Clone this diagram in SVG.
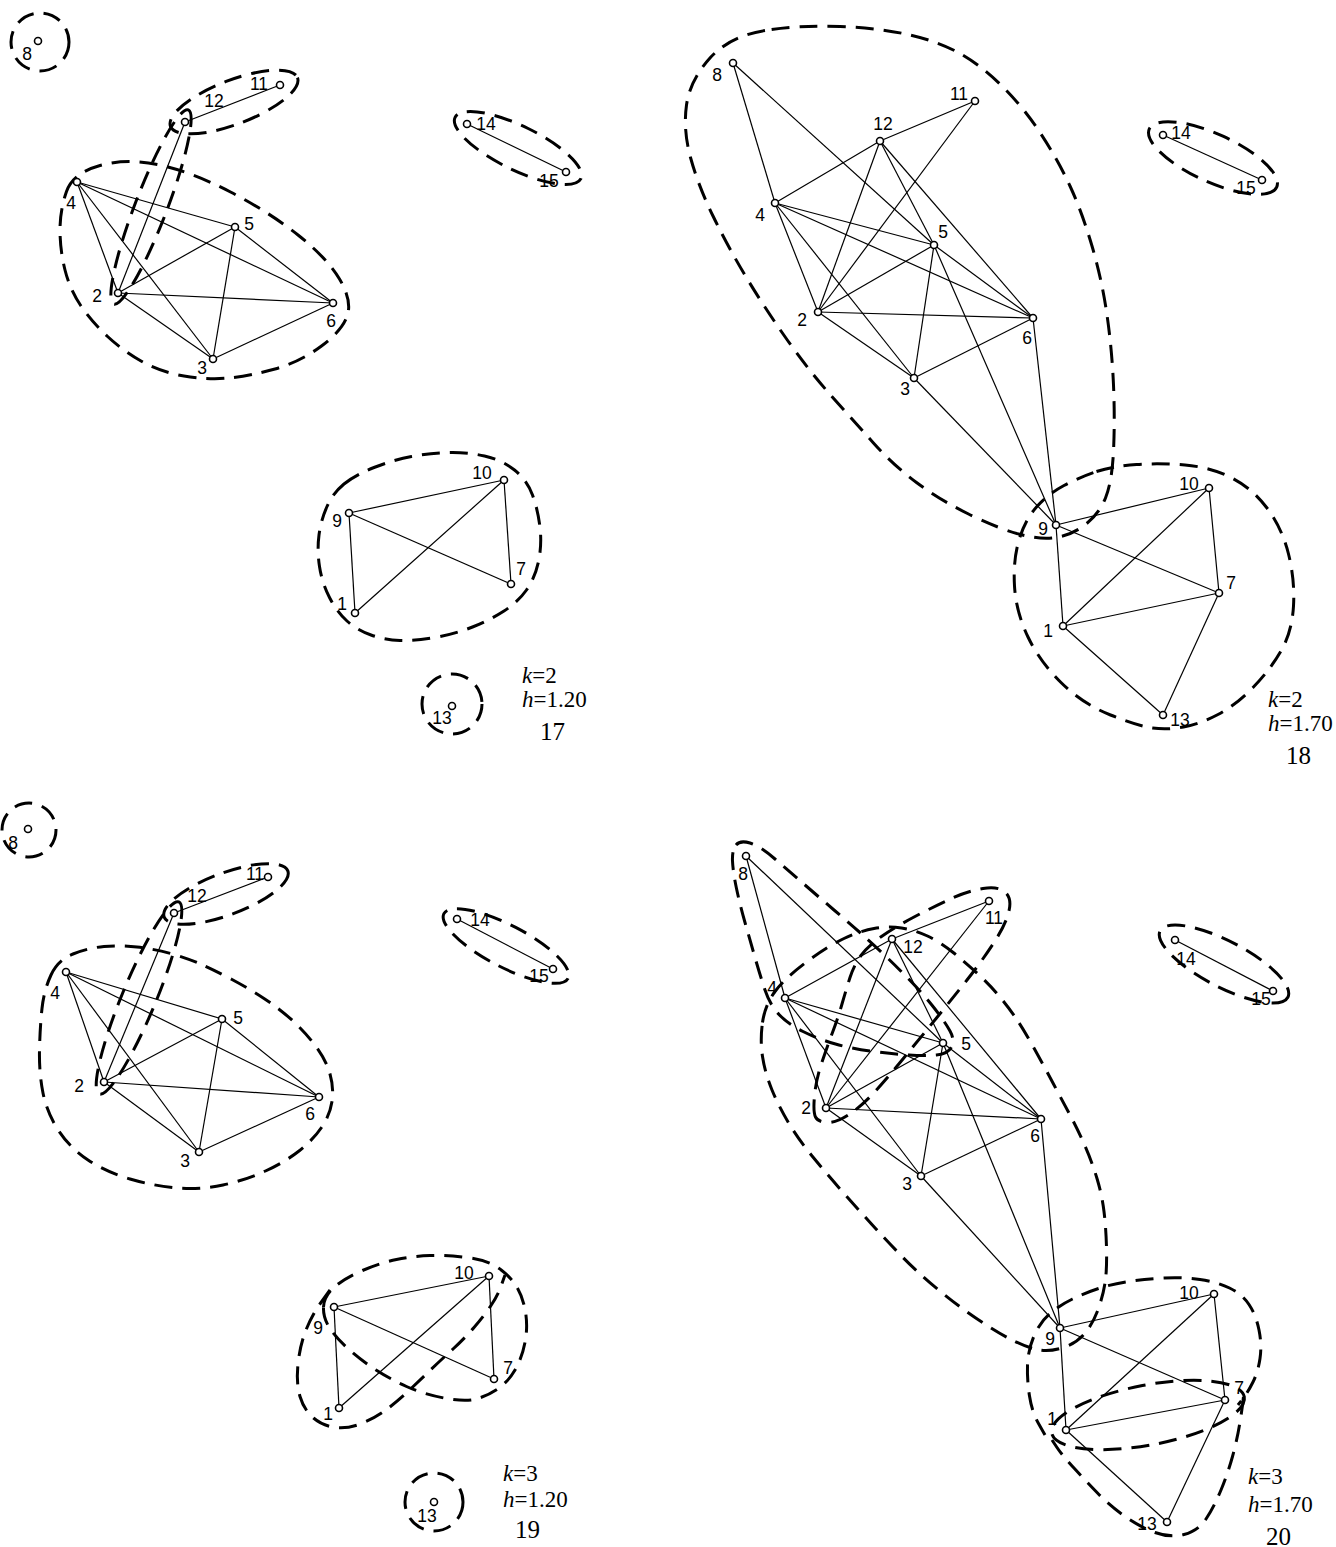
<svg xmlns="http://www.w3.org/2000/svg" width="1336" height="1547" viewBox="0 0 1336 1547">
<style>
.bg{fill:#fff}
.e line{stroke:#000;stroke-width:1.2}
.c{fill:none;stroke:#000;stroke-width:3;stroke-dasharray:18 10}
.n circle{fill:#fff;stroke:#000;stroke-width:1.6}
.n text{font-family:"Liberation Sans",Arial,sans-serif;font-size:17.5px;fill:#000;text-anchor:middle}
.t{font-family:"Liberation Serif","Times New Roman",serif;font-size:23px;fill:#000}
.t2{font-family:"Liberation Serif","Times New Roman",serif;font-size:25px;fill:#000}
</style>
<rect class="bg" x="0" y="0" width="1336" height="1547"/>

<!-- ===== Panel 17 ===== -->
<g id="p17-clusters">
<circle class="c" cx="40" cy="42" r="29"/>
<ellipse class="c" cx="234" cy="102" rx="68" ry="22" transform="rotate(-21 234 102)"/>
<ellipse class="c" cx="151" cy="207" rx="104" ry="16" transform="rotate(-69 151 207)"/>
<ellipse class="c" cx="518" cy="148" rx="70" ry="22" transform="rotate(26 518 148)"/>
<circle class="c" cx="452" cy="704" r="30"/>
<path class="c" d="M66.5,191.5 Q73,173 100,165.5 Q127,158 159.5,165 Q192,172 230.5,192 Q269,212 298,235 Q327,258 339.5,279 Q352,300 347.5,315 Q343,330 321.5,346 Q300,362 275,369 Q250,376 229,378 Q208,380 184,376 Q160,372 141,361 Q122,350 107,336 Q92,322 81,306 Q70,290 65,270 Q60,250 60,230 Q60,210 66.5,191.5 Z"/>
<path class="c" d="M344,484 Q355,475 374,467.5 Q393,460 411.5,456.5 Q430,453 448.5,452.5 Q467,452 484.5,456 Q502,460 514.5,470 Q527,480 532.5,495 Q538,510 540,527.5 Q542,545 538.5,561.5 Q535,578 526.5,590 Q518,602 504,611 Q490,620 472.5,627 Q455,634 435,637.5 Q415,641 400,640.5 Q385,640 371,635 Q357,630 347,621 Q337,612 329.5,597.5 Q322,583 319.5,566.5 Q317,550 319,535 Q321,520 327,506.5 Q333,493 344,484 Z"/>
</g>
<g id="p17-edges" class="e">
<line x1="280" y1="85" x2="185" y2="122"/>
<line x1="185" y1="122" x2="118" y2="293"/>
<line x1="467" y1="124" x2="566" y2="172"/>
<line x1="77" y1="182" x2="235" y2="227"/>
<line x1="77" y1="182" x2="333" y2="303"/>
<line x1="77" y1="182" x2="118" y2="293"/>
<line x1="77" y1="182" x2="213" y2="359"/>
<line x1="235" y1="227" x2="118" y2="293"/>
<line x1="235" y1="227" x2="333" y2="303"/>
<line x1="235" y1="227" x2="213" y2="359"/>
<line x1="118" y1="293" x2="333" y2="303"/>
<line x1="118" y1="293" x2="213" y2="359"/>
<line x1="213" y1="359" x2="333" y2="303"/>
<line x1="349" y1="513" x2="504" y2="480"/>
<line x1="349" y1="513" x2="511" y2="584"/>
<line x1="349" y1="513" x2="355" y2="613"/>
<line x1="504" y1="480" x2="355" y2="613"/>
<line x1="504" y1="480" x2="511" y2="584"/>
</g>
<g id="p17-n8" class="n"><circle cx="38" cy="41" r="3.5"/><text x="27" y="60">8</text></g>
<g id="p17-n11" class="n"><circle cx="280" cy="85" r="3.5"/><text x="259" y="90">11</text></g>
<g id="p17-n12" class="n"><circle cx="185" cy="122" r="3.5"/><text x="214" y="107">12</text></g>
<g id="p17-n14" class="n"><circle cx="467" cy="124" r="3.5"/><text x="486" y="130">14</text></g>
<g id="p17-n15" class="n"><circle cx="566" cy="172" r="3.5"/><text x="549" y="187">15</text></g>
<g id="p17-n4" class="n"><circle cx="77" cy="182" r="3.5"/><text x="71" y="209">4</text></g>
<g id="p17-n5" class="n"><circle cx="235" cy="227" r="3.5"/><text x="249" y="230">5</text></g>
<g id="p17-n2" class="n"><circle cx="118" cy="293" r="3.5"/><text x="97" y="302">2</text></g>
<g id="p17-n6" class="n"><circle cx="333" cy="303" r="3.5"/><text x="331" y="327">6</text></g>
<g id="p17-n3" class="n"><circle cx="213" cy="359" r="3.5"/><text x="202" y="374">3</text></g>
<g id="p17-n9" class="n"><circle cx="349" cy="513" r="3.5"/><text x="337" y="527">9</text></g>
<g id="p17-n10" class="n"><circle cx="504" cy="480" r="3.5"/><text x="482" y="479">10</text></g>
<g id="p17-n7" class="n"><circle cx="511" cy="584" r="3.5"/><text x="521" y="575">7</text></g>
<g id="p17-n1" class="n"><circle cx="355" cy="613" r="3.5"/><text x="342" y="610">1</text></g>
<g id="p17-n13" class="n"><circle cx="452" cy="706" r="3.5"/><text x="442" y="724">13</text></g>
<g id="p17-caption">
<text class="t" x="522" y="683"><tspan font-style="italic">k</tspan>=2</text>
<text class="t" x="522" y="707"><tspan font-style="italic">h</tspan>=1.20</text>
<text class="t2" x="540" y="740">17</text>
</g>

<!-- ===== Panel 18 ===== -->
<g id="p18-clusters">
<path class="c" d="M765,30.5 Q730,36 710,58 Q690,80 686.5,105 Q683,130 690.5,157.5 Q698,185 713,216 Q728,247 747,278.5 Q766,310 788,341 Q810,372 831.5,396 Q853,420 873,442.5 Q893,465 916.5,482.5 Q940,500 968.5,514 Q997,528 1018.5,534 Q1040,540 1056,537.5 Q1072,535 1085.5,524.5 Q1099,514 1105.5,498 Q1112,482 1113.5,451 Q1115,420 1113.5,385 Q1112,350 1107,315 Q1102,280 1092,246 Q1082,212 1070,186 Q1058,160 1041,134 Q1024,108 1003,87 Q982,66 961,54 Q940,42 910,35 Q880,28 840,26.5 Q800,25 765,30.5 Z"/>
<path class="c" d="M1096.5,471.5 Q1113,466 1136.5,464.5 Q1160,463 1185,465 Q1210,467 1231,477.5 Q1252,488 1267,508 Q1282,528 1288.5,554 Q1295,580 1293.5,606 Q1292,632 1281,651 Q1270,670 1253,687.5 Q1236,705 1218,714.5 Q1200,724 1183.5,727 Q1167,730 1152.5,728 Q1138,726 1110.5,715 Q1083,704 1061.5,683 Q1040,662 1028,637 Q1016,612 1014.5,586 Q1013,560 1019,540 Q1025,520 1036.5,507 Q1048,494 1064,485.5 Q1080,477 1096.5,471.5 Z"/>
<ellipse class="c" cx="1213" cy="158" rx="70" ry="24" transform="rotate(24.5 1213 158)"/>
</g>
<g id="p18-edges" class="e">
<line x1="733" y1="63" x2="775" y2="203"/>
<line x1="733" y1="63" x2="934" y2="245"/>
<line x1="880" y1="141" x2="975" y2="101"/>
<line x1="880" y1="141" x2="775" y2="203"/>
<line x1="880" y1="141" x2="818" y2="312"/>
<line x1="880" y1="141" x2="934" y2="245"/>
<line x1="880" y1="141" x2="1033" y2="318"/>
<line x1="975" y1="101" x2="818" y2="312"/>
<line x1="775" y1="203" x2="934" y2="245"/>
<line x1="775" y1="203" x2="1033" y2="318"/>
<line x1="775" y1="203" x2="818" y2="312"/>
<line x1="775" y1="203" x2="914" y2="378"/>
<line x1="934" y1="245" x2="818" y2="312"/>
<line x1="934" y1="245" x2="1033" y2="318"/>
<line x1="934" y1="245" x2="914" y2="378"/>
<line x1="934" y1="245" x2="1056" y2="525"/>
<line x1="818" y1="312" x2="1033" y2="318"/>
<line x1="818" y1="312" x2="914" y2="378"/>
<line x1="914" y1="378" x2="1033" y2="318"/>
<line x1="914" y1="378" x2="1056" y2="525"/>
<line x1="1033" y1="318" x2="1056" y2="525"/>
<line x1="1056" y1="525" x2="1209" y2="488"/>
<line x1="1056" y1="525" x2="1219" y2="593"/>
<line x1="1056" y1="525" x2="1063" y2="626"/>
<line x1="1209" y1="488" x2="1063" y2="626"/>
<line x1="1209" y1="488" x2="1219" y2="593"/>
<line x1="1063" y1="626" x2="1219" y2="593"/>
<line x1="1063" y1="626" x2="1163" y2="715"/>
<line x1="1219" y1="593" x2="1163" y2="715"/>
<line x1="1163" y1="135" x2="1262" y2="180"/>
</g>
<g id="p18-n8" class="n"><circle cx="733" cy="63" r="3.5"/><text x="717" y="81">8</text></g>
<g id="p18-n11" class="n"><circle cx="975" cy="101" r="3.5"/><text x="959" y="100">11</text></g>
<g id="p18-n12" class="n"><circle cx="880" cy="141" r="3.5"/><text x="883" y="130">12</text></g>
<g id="p18-n4" class="n"><circle cx="775" cy="203" r="3.5"/><text x="760" y="221">4</text></g>
<g id="p18-n5" class="n"><circle cx="934" cy="245" r="3.5"/><text x="943" y="238">5</text></g>
<g id="p18-n2" class="n"><circle cx="818" cy="312" r="3.5"/><text x="802" y="326">2</text></g>
<g id="p18-n6" class="n"><circle cx="1033" cy="318" r="3.5"/><text x="1027" y="344">6</text></g>
<g id="p18-n3" class="n"><circle cx="914" cy="378" r="3.5"/><text x="905" y="395">3</text></g>
<g id="p18-n9" class="n"><circle cx="1056" cy="525" r="3.5"/><text x="1043" y="535">9</text></g>
<g id="p18-n10" class="n"><circle cx="1209" cy="488" r="3.5"/><text x="1189" y="490">10</text></g>
<g id="p18-n7" class="n"><circle cx="1219" cy="593" r="3.5"/><text x="1231" y="589">7</text></g>
<g id="p18-n1" class="n"><circle cx="1063" cy="626" r="3.5"/><text x="1048" y="637">1</text></g>
<g id="p18-n13" class="n"><circle cx="1163" cy="715" r="3.5"/><text x="1180" y="726">13</text></g>
<g id="p18-n14" class="n"><circle cx="1163" cy="135" r="3.5"/><text x="1181" y="139">14</text></g>
<g id="p18-n15" class="n"><circle cx="1262" cy="180" r="3.5"/><text x="1246" y="194">15</text></g>
<g id="p18-caption">
<text class="t" x="1268" y="707"><tspan font-style="italic">k</tspan>=2</text>
<text class="t" x="1268" y="731"><tspan font-style="italic">h</tspan>=1.70</text>
<text class="t2" x="1286" y="764">18</text>
</g>

<!-- ===== Panel 19 ===== -->
<g id="p19-clusters">
<circle class="c" cx="29" cy="830" r="27"/>
<ellipse class="c" cx="226" cy="894" rx="66" ry="21" transform="rotate(-20.5 226 894)"/>
<ellipse class="c" cx="139" cy="998" rx="104" ry="17" transform="rotate(-67.5 139 998)"/>
<ellipse class="c" cx="506" cy="946" rx="70" ry="21" transform="rotate(27.5 506 946)"/>
<circle class="c" cx="434" cy="1502" r="29"/>
<path class="c" d="M51,975 Q58,960 73,954 Q88,948 104,946.5 Q120,945 137,947 Q154,949 170.5,953.5 Q187,958 201.5,964.5 Q216,971 232,979.5 Q248,988 264,998.5 Q280,1009 293,1021 Q306,1033 316,1046.5 Q326,1060 330,1074 Q334,1088 332,1101.5 Q330,1115 321.5,1127.5 Q313,1140 299,1151 Q285,1162 265.5,1171 Q246,1180 223,1185 Q200,1190 177,1188 Q154,1186 130,1179 Q106,1172 88,1160 Q70,1148 58.5,1130.5 Q47,1113 43,1093 Q39,1073 39.5,1050 Q40,1027 42,1008.5 Q44,990 51,975 Z"/>
<path class="c" d="M323.5,1307 Q324,1296 334.5,1287 Q345,1278 362.5,1270.5 Q380,1263 396.5,1259.5 Q413,1256 430,1255.5 Q447,1255 467,1257.5 Q487,1260 498.5,1268 Q510,1276 516.5,1286.5 Q523,1297 525.5,1312 Q528,1327 525,1342.5 Q522,1358 515,1370 Q508,1382 497.5,1389 Q487,1396 476,1399 Q465,1402 444,1398 Q423,1394 406.5,1386.5 Q390,1379 376,1370 Q362,1361 349.5,1350 Q337,1339 330,1328.5 Q323,1318 323.5,1307 Z"/>
<path class="c" d="M330,1290 L321,1302.5 Q312,1315 306,1330 Q300,1345 298,1364 Q296,1383 300,1396.5 Q304,1410 313.5,1418 Q323,1426 335.5,1427.5 Q348,1429 361.5,1423.5 Q375,1418 386.5,1409.5 Q398,1401 409,1390.5 Q420,1380 431,1369.5 Q442,1359 453,1349 Q464,1339 474,1327.5 Q484,1316 491,1305.5 Q498,1295 501.5,1285 L505,1275"/>
</g>
<g id="p19-edges" class="e">
<line x1="268" y1="877" x2="174" y2="913"/>
<line x1="174" y1="913" x2="104" y2="1082"/>
<line x1="457" y1="919" x2="553" y2="969"/>
<line x1="66" y1="972" x2="222" y2="1019"/>
<line x1="66" y1="972" x2="319" y2="1097"/>
<line x1="66" y1="972" x2="104" y2="1082"/>
<line x1="66" y1="972" x2="199" y2="1152"/>
<line x1="222" y1="1019" x2="104" y2="1082"/>
<line x1="222" y1="1019" x2="319" y2="1097"/>
<line x1="222" y1="1019" x2="199" y2="1152"/>
<line x1="104" y1="1082" x2="319" y2="1097"/>
<line x1="104" y1="1082" x2="199" y2="1152"/>
<line x1="199" y1="1152" x2="319" y2="1097"/>
<line x1="334" y1="1307" x2="489" y2="1276"/>
<line x1="334" y1="1307" x2="494" y2="1379"/>
<line x1="334" y1="1307" x2="339" y2="1408"/>
<line x1="489" y1="1276" x2="339" y2="1408"/>
<line x1="489" y1="1276" x2="494" y2="1379"/>
</g>
<g id="p19-n8" class="n"><circle cx="28" cy="829" r="3.5"/><text x="13" y="849">8</text></g>
<g id="p19-n11" class="n"><circle cx="268" cy="877" r="3.5"/><text x="255" y="880">11</text></g>
<g id="p19-n12" class="n"><circle cx="174" cy="913" r="3.5"/><text x="197" y="902">12</text></g>
<g id="p19-n14" class="n"><circle cx="457" cy="919" r="3.5"/><text x="480" y="926">14</text></g>
<g id="p19-n15" class="n"><circle cx="553" cy="969" r="3.5"/><text x="539" y="982">15</text></g>
<g id="p19-n4" class="n"><circle cx="66" cy="972" r="3.5"/><text x="55" y="999">4</text></g>
<g id="p19-n5" class="n"><circle cx="222" cy="1019" r="3.5"/><text x="238" y="1024">5</text></g>
<g id="p19-n2" class="n"><circle cx="104" cy="1082" r="3.5"/><text x="79" y="1092">2</text></g>
<g id="p19-n6" class="n"><circle cx="319" cy="1097" r="3.5"/><text x="310" y="1120">6</text></g>
<g id="p19-n3" class="n"><circle cx="199" cy="1152" r="3.5"/><text x="185" y="1167">3</text></g>
<g id="p19-n9" class="n"><circle cx="334" cy="1307" r="3.5"/><text x="318" y="1334">9</text></g>
<g id="p19-n10" class="n"><circle cx="489" cy="1276" r="3.5"/><text x="464" y="1279">10</text></g>
<g id="p19-n7" class="n"><circle cx="494" cy="1379" r="3.5"/><text x="508" y="1374">7</text></g>
<g id="p19-n1" class="n"><circle cx="339" cy="1408" r="3.5"/><text x="328" y="1420">1</text></g>
<g id="p19-n13" class="n"><circle cx="434" cy="1502" r="3.5"/><text x="427" y="1522">13</text></g>
<g id="p19-caption">
<text class="t" x="503" y="1481"><tspan font-style="italic">k</tspan>=3</text>
<text class="t" x="503" y="1507"><tspan font-style="italic">h</tspan>=1.20</text>
<text class="t2" x="515" y="1538">19</text>
</g>

<!-- ===== Panel 20 ===== -->
<g id="p20-clusters">
<path class="c" d="M736,845 Q740,840 750,843 Q760,846 775,859 Q790,872 805,885 Q820,898 834,910 Q848,922 860.5,933 Q873,944 886.5,957 Q900,970 912.5,983 Q925,996 935,1009 Q945,1022 950,1031 Q955,1040 951.5,1047 Q948,1054 936.5,1055 Q925,1056 909,1055 Q893,1054 873,1051.5 Q853,1049 835.5,1044 Q818,1039 803,1031.5 Q788,1024 779,1014.5 Q770,1005 765,990 Q760,975 755,957.5 Q750,940 745,922.5 Q740,905 736.5,888.5 Q733,872 732.5,861 Q732,850 736,845 Z"/>
<path class="c" d="M762.5,1022.5 Q765,1005 775,991.5 Q785,978 806.5,962 Q828,946 844,938.5 Q860,931 874,928.5 Q888,926 901.5,928 Q915,930 927.5,936 Q940,942 952.5,952 Q965,962 977.5,973.5 Q990,985 999.5,996.5 Q1009,1008 1016.5,1019 Q1024,1030 1034.5,1049 Q1045,1068 1053.5,1084 Q1062,1100 1070,1115 Q1078,1130 1085,1146 Q1092,1162 1097,1178.5 Q1102,1195 1104,1211.5 Q1106,1228 1106.5,1247.5 Q1107,1267 1105.5,1279.5 Q1104,1292 1099,1307 Q1094,1322 1085.5,1332.5 Q1077,1343 1063.5,1347.5 Q1050,1352 1039,1350 Q1028,1348 1013,1340.5 Q998,1333 978,1319.5 Q958,1306 938,1289.5 Q918,1273 902,1256.5 Q886,1240 871,1223.5 Q856,1207 841,1190 Q826,1173 812.5,1156.5 Q799,1140 789,1123.5 Q779,1107 772,1090 Q765,1073 762.5,1056.5 Q760,1040 762.5,1022.5 Z"/>
<path class="c" d="M815.5,1117 Q813,1112 814.5,1096 Q816,1080 821.5,1063.5 Q827,1047 832.5,1032.5 Q838,1018 842,1004 Q846,990 850,977.5 Q854,965 861,955.5 Q868,946 881.5,936.5 Q895,927 915,916.5 Q935,906 951.5,898.5 Q968,891 983,888.5 Q998,886 1005,892 Q1012,898 1009,911 Q1006,924 994,942.5 Q982,961 967,980 Q952,999 936.5,1018 Q921,1037 905,1056.5 Q889,1076 875.5,1091 Q862,1106 849,1114.5 Q836,1123 827,1122.5 Q818,1122 815.5,1117 Z"/>
<path class="c" d="M1045,1435 L1038.5,1423.5 Q1032,1412 1029.5,1396 Q1027,1380 1027.5,1365 Q1028,1350 1034,1336 Q1040,1322 1050,1313.5 Q1060,1305 1072.5,1299 Q1085,1293 1098.5,1288.5 Q1112,1284 1128.5,1281.5 Q1145,1279 1164,1278 Q1183,1277 1200,1279.5 Q1217,1282 1229.5,1288 Q1242,1294 1249,1304.5 Q1256,1315 1259,1330 Q1262,1345 1260,1358.5 Q1258,1372 1253,1382 Q1248,1392 1243,1398.5 L1238,1405"/>
<ellipse class="c" cx="1148" cy="1415" rx="98" ry="30" transform="rotate(-10.7 1148 1415)"/>
<path class="c" d="M1052,1440 L1057,1447.5 Q1062,1455 1073.5,1467.5 Q1085,1480 1097.5,1493 Q1110,1506 1125,1516.5 Q1140,1527 1155,1532.5 Q1170,1538 1184,1534.5 Q1198,1531 1206,1519 Q1214,1507 1221,1490 Q1228,1473 1232.5,1456.5 Q1237,1440 1239.5,1425 Q1242,1410 1243,1401 L1244,1392"/>
<ellipse class="c" cx="1224" cy="964" rx="72" ry="23" transform="rotate(27.5 1224 964)"/>
</g>
<g id="p20-edges" class="e">
<line x1="746" y1="856" x2="785" y2="998"/>
<line x1="746" y1="856" x2="943" y2="1043"/>
<line x1="892" y1="939" x2="989" y2="901"/>
<line x1="892" y1="939" x2="785" y2="998"/>
<line x1="892" y1="939" x2="826" y2="1108"/>
<line x1="892" y1="939" x2="943" y2="1043"/>
<line x1="892" y1="939" x2="1041" y2="1119"/>
<line x1="989" y1="901" x2="826" y2="1108"/>
<line x1="785" y1="998" x2="943" y2="1043"/>
<line x1="785" y1="998" x2="1041" y2="1119"/>
<line x1="785" y1="998" x2="826" y2="1108"/>
<line x1="785" y1="998" x2="921" y2="1176"/>
<line x1="943" y1="1043" x2="826" y2="1108"/>
<line x1="943" y1="1043" x2="1041" y2="1119"/>
<line x1="943" y1="1043" x2="921" y2="1176"/>
<line x1="943" y1="1043" x2="1060" y2="1328"/>
<line x1="826" y1="1108" x2="1041" y2="1119"/>
<line x1="826" y1="1108" x2="921" y2="1176"/>
<line x1="921" y1="1176" x2="1041" y2="1119"/>
<line x1="921" y1="1176" x2="1060" y2="1328"/>
<line x1="1041" y1="1119" x2="1060" y2="1328"/>
<line x1="1060" y1="1328" x2="1214" y2="1294"/>
<line x1="1060" y1="1328" x2="1225" y2="1400"/>
<line x1="1060" y1="1328" x2="1066" y2="1430"/>
<line x1="1214" y1="1294" x2="1066" y2="1430"/>
<line x1="1214" y1="1294" x2="1225" y2="1400"/>
<line x1="1066" y1="1430" x2="1225" y2="1400"/>
<line x1="1066" y1="1430" x2="1167" y2="1522"/>
<line x1="1225" y1="1400" x2="1167" y2="1522"/>
<line x1="1175" y1="940" x2="1273" y2="991"/>
</g>
<g id="p20-n8" class="n"><circle cx="746" cy="856" r="3.5"/><text x="743" y="880">8</text></g>
<g id="p20-n11" class="n"><circle cx="989" cy="901" r="3.5"/><text x="994" y="924">11</text></g>
<g id="p20-n12" class="n"><circle cx="892" cy="939" r="3.5"/><text x="913" y="953">12</text></g>
<g id="p20-n4" class="n"><circle cx="785" cy="998" r="3.5"/><text x="772" y="994">4</text></g>
<g id="p20-n5" class="n"><circle cx="943" cy="1043" r="3.5"/><text x="966" y="1050">5</text></g>
<g id="p20-n2" class="n"><circle cx="826" cy="1108" r="3.5"/><text x="806" y="1114">2</text></g>
<g id="p20-n6" class="n"><circle cx="1041" cy="1119" r="3.5"/><text x="1035" y="1142">6</text></g>
<g id="p20-n3" class="n"><circle cx="921" cy="1176" r="3.5"/><text x="907" y="1190">3</text></g>
<g id="p20-n9" class="n"><circle cx="1060" cy="1328" r="3.5"/><text x="1050" y="1345">9</text></g>
<g id="p20-n10" class="n"><circle cx="1214" cy="1294" r="3.5"/><text x="1189" y="1299">10</text></g>
<g id="p20-n7" class="n"><circle cx="1225" cy="1400" r="3.5"/><text x="1239" y="1394">7</text></g>
<g id="p20-n1" class="n"><circle cx="1066" cy="1430" r="3.5"/><text x="1052" y="1425">1</text></g>
<g id="p20-n13" class="n"><circle cx="1167" cy="1522" r="3.5"/><text x="1147" y="1530">13</text></g>
<g id="p20-n14" class="n"><circle cx="1175" cy="940" r="3.5"/><text x="1186" y="965">14</text></g>
<g id="p20-n15" class="n"><circle cx="1273" cy="991" r="3.5"/><text x="1261" y="1005">15</text></g>
<g id="p20-caption">
<text class="t" x="1248" y="1484"><tspan font-style="italic">k</tspan>=3</text>
<text class="t" x="1248" y="1512"><tspan font-style="italic">h</tspan>=1.70</text>
<text class="t2" x="1266" y="1545">20</text>
</g>
</svg>
